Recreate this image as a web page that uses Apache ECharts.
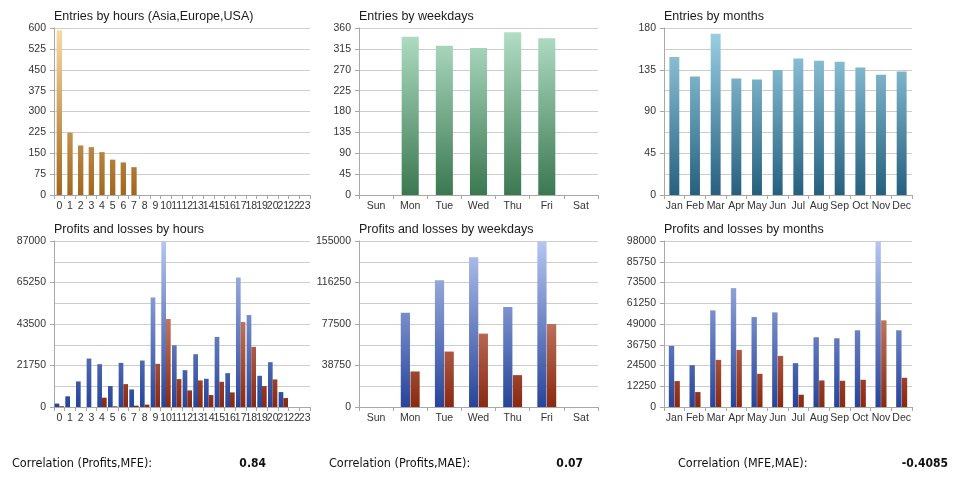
<!DOCTYPE html>
<html>
<head>
<meta charset="utf-8">
<script src="https://cdn.jsdelivr.net/npm/echarts@6/dist/echarts.min.js"></script>
<style>html,body{margin:0;padding:0;background:#fff}#c{width:960px;height:489px}</style>
</head>
<body>
<div id="c"></div>
<script>
const hours = ['0','1','2','3','4','5','6','7','8','9','10','11','12','13','14','15','16','17','18','19','20','21','22','23'];
const weekdays = ['Sun','Mon','Tue','Wed','Thu','Fri','Sat'];
const months = ['Jan','Feb','Mar','Apr','May','Jun','Jul','Aug','Sep','Oct','Nov','Dec'];

const entriesByHour = [592,224,178,172,154,127,117,100,0,0,0,0,0,0,0,0,0,0,0,0,0,0,0,0];
const entriesByWeekday = [0,341,322,317,351,338,0];
const entriesByMonth = [148.7,127.8,173.9,125.6,124.6,134.6,147.2,144.7,143.6,137.5,129.6,133.2];

const profitsByHour = [1800,5600,13400,25400,22450,10960,23140,9220,24360,57420,87000,32360,19310,27670,14790,36710,17750,67860,48200,16360,23490,7830,0,0];
const lossesByHour = [400,0,0,0,4870,350,12000,700,1220,22620,46110,14620,8700,13920,6260,13220,7660,44540,31490,10960,14440,4700,0,0];
const profitsByWeekday = [0,88040,118420,139810,93310,155000,0];
const lossesByWeekday = [0,33170,51770,68510,29760,77500,0];
const profitsByMonth = [36064,24696,57036,70168,53116,55860,25872,41160,40572,45276,98000,45276];
const lossesByMonth = [15288,8820,27832,33712,19600,30184,7252,15680,15484,16072,51156,17248];

const chartTitles = ['Entries by hours (Asia,Europe,USA)','Entries by weekdays','Entries by months','Profits and losses by hours','Profits and losses by weekdays','Profits and losses by months'];
const corrLabels = ['Correlation (Profits,MFE):','Correlation (Profits,MAE):','Correlation (MFE,MAE):'];
const corrValues = ['0.84','0.07','-0.4085'];

const FONT = '"Liberation Sans", Arial, sans-serif';
const cols = [{left:54,width:256},{left:359,width:239},{left:664,width:248}];
const rows = [{top:28,height:167},{top:241,height:166}];

function grad(top, bottom, c1, c2){
  return {type:'linear', x:0, y:top, x2:0, y2:bottom, global:true,
    colorStops:[{offset:0,color:c1},{offset:1,color:c2}]};
}

const grids = [], xAxes = [], yAxes = [], titles = [], series = [];
const cats = [hours, weekdays, months, hours, weekdays, months];
const yCfg = [
  {max:600, interval:75, minor:false},
  {max:360, interval:45, minor:false},
  {max:180, interval:45, minor:true},
  {max:87000, interval:21750, minor:true},
  {max:155000, interval:38750, minor:true},
  {max:98000, interval:12250, minor:false}
];
for (let i=0;i<6;i++){
  const r = rows[Math.floor(i/3)], c = cols[i%3];
  grids.push({left:c.left, width:c.width, top:r.top, height:r.height, containLabel:false});
  titles.push({text:chartTitles[i], left:c.left, top:r.top-18,
    textStyle:{fontFamily:FONT, fontSize:12.5, fontWeight:'normal', color:'#1a1a1a'}, padding:0});
  xAxes.push({type:'category', gridIndex:i, data:cats[i],
    axisLine:{lineStyle:{color:'#a8a8a8'}},
    axisTick:{show:true, length:4, lineStyle:{color:'#a8a8a8'}},
    axisLabel:{interval:0, color:'#333', fontFamily:FONT, fontSize:10.5, margin:6}});
  const y = yCfg[i];
  yAxes.push({type:'value', gridIndex:i, min:0, max:y.max, interval:y.interval,
    axisLine:{show:true, lineStyle:{color:'#a8a8a8'}},
    axisTick:{show:true, length:4, lineStyle:{color:'#a8a8a8'}},
    axisLabel:{color:'#333', fontFamily:FONT, fontSize:10.5, margin:8, formatter:(v)=>String(v)},
    splitLine:{lineStyle:{color:'#cdcdcd'}},
    minorTick:{show:false, splitNumber:2},
    minorSplitLine:{show:y.minor, lineStyle:{color:'#cdcdcd'}}});
}
const t0 = rows[0].top, b0 = rows[0].top+rows[0].height;
const t1 = rows[1].top, b1 = rows[1].top+rows[1].height;
series.push({type:'bar', xAxisIndex:0, yAxisIndex:0, data:entriesByHour, barWidth:'50%',
  itemStyle:{color:grad(t0,b0,'#f9dba4','#a2661c')}});
series.push({type:'bar', xAxisIndex:1, yAxisIndex:1, data:entriesByWeekday, barWidth:'50%',
  itemStyle:{color:grad(t0,b0,'#b4e0c8','#3b7850')}});
series.push({type:'bar', xAxisIndex:2, yAxisIndex:2, data:entriesByMonth, barWidth:'48%',
  itemStyle:{color:grad(t0,b0,'#9dd2e6','#26607e')}});
const blue = grad(t1,b1,'#b6c6f0','#27449a');
const red = grad(t1,b1,'#eeb8a4','#8a2810');
series.push({type:'bar', xAxisIndex:3, yAxisIndex:3, data:profitsByHour, barWidth:'44%', barGap:'0%', itemStyle:{color:blue}});
series.push({type:'bar', xAxisIndex:3, yAxisIndex:3, data:lossesByHour, barWidth:'44%', barGap:'0%', itemStyle:{color:red}});
series.push({type:'bar', xAxisIndex:4, yAxisIndex:4, data:profitsByWeekday, barWidth:'27%', barGap:'5%', itemStyle:{color:blue}});
series.push({type:'bar', xAxisIndex:4, yAxisIndex:4, data:lossesByWeekday, barWidth:'27%', barGap:'5%', itemStyle:{color:red}});
series.push({type:'bar', xAxisIndex:5, yAxisIndex:5, data:profitsByMonth, barWidth:'26%', barGap:'5%', itemStyle:{color:blue}});
series.push({type:'bar', xAxisIndex:5, yAxisIndex:5, data:lossesByMonth, barWidth:'26%', barGap:'5%', itemStyle:{color:red}});

const CFONT = '"DejaVu Sans Condensed", "DejaVu Sans", sans-serif';
const labelX = [12,329,678], valueRight = [266,583,948];
const graphic = [];
for (let i=0;i<3;i++){
  graphic.push({type:'text', left:labelX[i], top:457,
    style:{text:corrLabels[i], font:'12.5px '+CFONT, fill:'#111'}});
  graphic.push({type:'text', right:960-valueRight[i], top:458,
    style:{text:corrValues[i], font:'bold 12px '+CFONT, fill:'#111'}});
}

const chart = echarts.init(document.getElementById('c'), null, {renderer:'canvas'});
chart.setOption({animation:false, backgroundColor:'#fff', title:titles, grid:grids,
  xAxis:xAxes, yAxis:yAxes, series:series, graphic:graphic});
</script>
</body>
</html>
